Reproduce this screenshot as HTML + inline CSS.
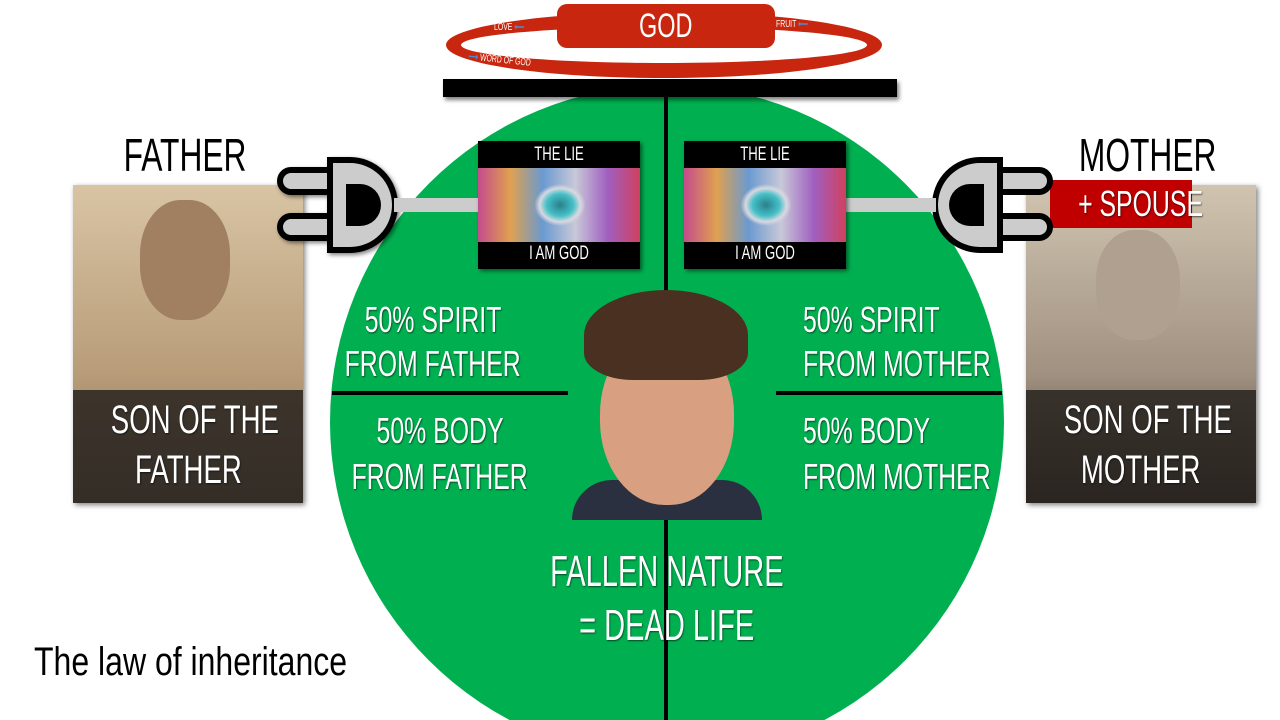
<!DOCTYPE html>
<html><head><style>
html,body{margin:0;width:1280px;height:720px;overflow:hidden}
body{background:#fff;font-family:"Liberation Sans",sans-serif}
#w{position:relative;width:1280px;height:720px;overflow:hidden}
.a{position:absolute;white-space:nowrap}
.t{color:#fff;text-align:center;text-shadow:1px 1px 2px rgba(0,0,0,.6)}
.c{display:inline-block;transform:scaleX(.69)}
.l{display:inline-block;transform:scaleX(.69);transform-origin:0 0}
.eye{position:absolute;width:162px;height:128px;background:#000;box-shadow:2px 2px 4px rgba(0,0,0,.5)}
.eye .img{position:absolute;left:0;top:27px;width:162px;height:74px;background:radial-gradient(ellipse 34px 28px at 82px 37px,#2a7f8a 0,#46c0c8 40%,#d8d8e0 60%,transparent 75%),linear-gradient(90deg,#c44c8c,#e0a050,#6a9ad0,#c8c8d8,#a060c0,#d04060)}
.eye span{position:absolute;left:0;width:162px;text-align:center;color:#fff;font-size:19px}
</style></head><body><div id="w">
<svg class="a" style="left:0;top:0" width="1280" height="720"><circle cx="667" cy="422" r="337" fill="#00b050"/><rect x="664" y="85" width="4" height="635" fill="#000"/></svg>
<div class="a" style="left:332px;top:391px;width:236px;height:4px;background:#000"></div>
<div class="a" style="left:776px;top:391px;width:226px;height:4px;background:#000"></div>
<div class="a" style="left:443px;top:79px;width:454px;height:18px;background:#000;box-shadow:2px 3px 4px rgba(0,0,0,.5)"></div>
<div class="a" style="left:446px;top:12px;width:436px;height:66px;border:15px solid #c8260e;border-radius:50%;box-sizing:border-box"></div>
<div class="a t" style="left:557px;top:4px;width:218px;height:44px;background:#c8260e;border-radius:10px;font-size:34px;line-height:44px;text-shadow:none"><span class="c">GOD</span></div>
<div class="a" style="left:494px;top:22px;color:#fff;font-size:10px"><span class="l">LOVE <b style="color:#4a90d0">⟵</b></span></div>
<div class="a" style="left:776px;top:19px;color:#fff;font-size:10px"><span class="l">FRUIT <b style="color:#4a90d0">⟵</b></span></div>
<div class="a" style="left:468px;top:56px;color:#fff;font-size:10px;transform:rotate(6deg)"><span class="l"><b style="color:#4a90d0">⟶</b> WORD OF GOD</span></div>
<div class="a" style="left:73px;top:185px;width:230px;height:318px;background:linear-gradient(180deg,#d8c4a4,#b89c78 60%,#7a6a58);box-shadow:2px 2px 5px rgba(0,0,0,.5)"></div>
<div class="a" style="left:140px;top:200px;width:90px;height:120px;border-radius:45%;background:#a08060"></div>
<div class="a t" style="left:73px;top:390px;width:230px;height:113px;background:rgba(40,35,30,.85);font-size:40px;line-height:50px;padding-top:5px;box-sizing:border-box"><span class="c">SON OF THE</span><br><span class="c">FATHER</span></div>
<div class="a" style="left:1026px;top:185px;width:230px;height:318px;background:linear-gradient(180deg,#d0c4b0,#a09080 60%,#3a3430);box-shadow:2px 2px 5px rgba(0,0,0,.5)"></div>
<div class="a" style="left:1096px;top:230px;width:84px;height:110px;border-radius:45%;background:#b0a090"></div>
<div class="a t" style="left:1026px;top:390px;width:230px;height:113px;background:rgba(40,35,30,.85);font-size:40px;line-height:50px;padding-top:5px;box-sizing:border-box"><span class="c">SON OF THE</span><br><span class="c">MOTHER</span></div>
<div class="a" style="left:85px;top:128px;width:200px;text-align:center;font-size:46px;color:#000"><span class="c">FATHER</span></div>
<div class="a" style="left:1048px;top:128px;width:200px;text-align:center;font-size:46px;color:#000"><span class="c">MOTHER</span></div>
<div class="a t" style="left:1050px;top:180px;width:142px;height:48px;background:#c00000;font-size:36px;line-height:48px"><span class="c">+ SPOUSE</span></div>
<svg class="a" style="left:270px;top:150px" width="220" height="110">
<g fill="#ccc" stroke="#000" stroke-width="6" filter="drop-shadow(2px 2px 2px rgba(0,0,0,.5))">
<rect x="10" y="20" width="60" height="22" rx="11"/><rect x="10" y="66" width="60" height="22" rx="11"/>
<path d="M60 10 H80 A44 44 0 0 1 80 100 H60 Z"/></g>
<path d="M76 34 H90 A20 20 0 0 1 90 76 H76 Z" fill="#000"/>
<rect x="124" y="48" width="90" height="14" fill="#ccc"/></svg>
<svg class="a" style="left:840px;top:150px;transform:scaleX(-1)" width="220" height="110">
<g fill="#ccc" stroke="#000" stroke-width="6"><rect x="10" y="20" width="60" height="22" rx="11"/><rect x="10" y="66" width="60" height="22" rx="11"/>
<path d="M60 10 H80 A44 44 0 0 1 80 100 H60 Z"/></g>
<path d="M76 34 H90 A20 20 0 0 1 90 76 H76 Z" fill="#000"/>
<rect x="124" y="48" width="90" height="14" fill="#ccc"/></svg>
<div class="eye" style="left:478px;top:141px"><span style="top:3px"><span class="c">THE LIE</span></span><div class="img"></div><span style="top:102px"><span class="c">I AM GOD</span></span></div>
<div class="eye" style="left:684px;top:141px"><span style="top:3px"><span class="c">THE LIE</span></span><div class="img"></div><span style="top:102px"><span class="c">I AM GOD</span></span></div>
<div class="a" style="left:572px;top:480px;width:190px;height:40px;background:#2a3040;border-radius:40px 40px 0 0"></div>
<div class="a" style="left:600px;top:330px;width:134px;height:175px;border-radius:48%;background:#d8a080"></div>
<div class="a" style="left:584px;top:290px;width:164px;height:90px;border-radius:50% 50% 30% 30%;background:#4a3020"></div>
<div class="a t" style="left:233px;top:298px;width:400px;font-size:36px;line-height:44px"><span class="c">50% SPIRIT</span><br><span class="c">FROM FATHER</span></div>
<div class="a t" style="left:240px;top:408px;width:400px;font-size:36px;line-height:46px"><span class="c">50% BODY</span><br><span class="c">FROM FATHER</span></div>
<div class="a t" style="left:803px;top:298px;width:200px;font-size:36px;line-height:44px;text-align:left"><span class="l">50% SPIRIT</span><br><span class="l">FROM MOTHER</span></div>
<div class="a t" style="left:803px;top:408px;width:200px;font-size:36px;line-height:46px;text-align:left"><span class="l">50% BODY</span><br><span class="l">FROM MOTHER</span></div>
<div class="a t" style="left:467px;top:545px;width:400px;font-size:44px;line-height:54px"><span class="c" style="transform:scaleX(.66)">FALLEN NATURE</span><br><span class="c" style="transform:scaleX(.66)">= DEAD LIFE</span></div>
<div class="a" style="left:34px;top:640px;font-size:40px;color:#000"><span class="l" style="transform:scaleX(.8)">The law of inheritance</span></div>
</div></body></html>
